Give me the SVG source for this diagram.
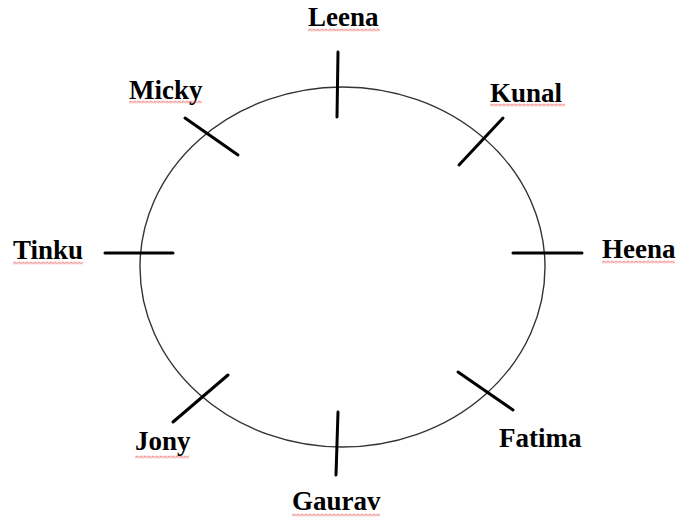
<svg xmlns="http://www.w3.org/2000/svg" width="677" height="522" viewBox="0 0 677 522">
<style>
.lbl{font-family:"Liberation Serif","Times New Roman",serif;font-weight:bold;font-size:27px;fill:#000}
.tick{stroke:#000;stroke-width:3;stroke-linecap:round;fill:none}
.ring{stroke:#333;stroke-width:1.4;fill:none}
.sq{fill:url(#sq)}
</style>
<defs>
<pattern id="sq" width="4" height="3" patternUnits="userSpaceOnUse">
<path d="M0 2.5 L2 0.5 L4 2.5" fill="none" stroke="#e02020" stroke-width="0.9"/>
</pattern>
</defs>
<rect width="677" height="522" fill="#fff"/>
<g id="circle">
<ellipse class="ring" cx="342.5" cy="267" rx="202.5" ry="180"/>
</g>
<g id="connectors"></g>
<g id="leena">
<line class="tick" x1="338" y1="52" x2="337" y2="117"/>
<text class="lbl" x="308" y="26">Leena</text>
<rect class="sq" transform="translate(308,28.5)" width="72" height="3"/>
</g>
<g id="micky">
<line class="tick" x1="185" y1="118" x2="238" y2="155"/>
<text class="lbl" x="129" y="99">Micky</text>
<rect class="sq" transform="translate(129,100.5)" width="73" height="3"/>
</g>
<g id="kunal">
<line class="tick" x1="503" y1="118" x2="459" y2="165"/>
<text class="lbl" x="490" y="102">Kunal</text>
<rect class="sq" transform="translate(490,103.5)" width="75" height="3"/>
</g>
<g id="tinku">
<line class="tick" x1="105" y1="253" x2="173" y2="253"/>
<text class="lbl" x="13" y="259">Tinku</text>
<rect class="sq" transform="translate(13,261.5)" width="70" height="3"/>
</g>
<g id="heena">
<line class="tick" x1="513" y1="253" x2="582" y2="253"/>
<text class="lbl" x="602" y="258">Heena</text>
<rect class="sq" transform="translate(602,260.5)" width="73" height="3"/>
</g>
<g id="jony">
<line class="tick" x1="228" y1="375" x2="173" y2="422"/>
<text class="lbl" x="135" y="450">Jony</text>
<rect class="sq" transform="translate(135,455.5)" width="54" height="3"/>
</g>
<g id="fatima">
<line class="tick" x1="458" y1="372" x2="513" y2="410"/>
<text class="lbl" x="499" y="447">Fatima</text>
</g>
<g id="gaurav">
<line class="tick" x1="338" y1="412" x2="336" y2="475"/>
<text class="lbl" x="292" y="510">Gaurav</text>
<rect class="sq" transform="translate(292,513.5)" width="88" height="3"/>
</g>
</svg>
